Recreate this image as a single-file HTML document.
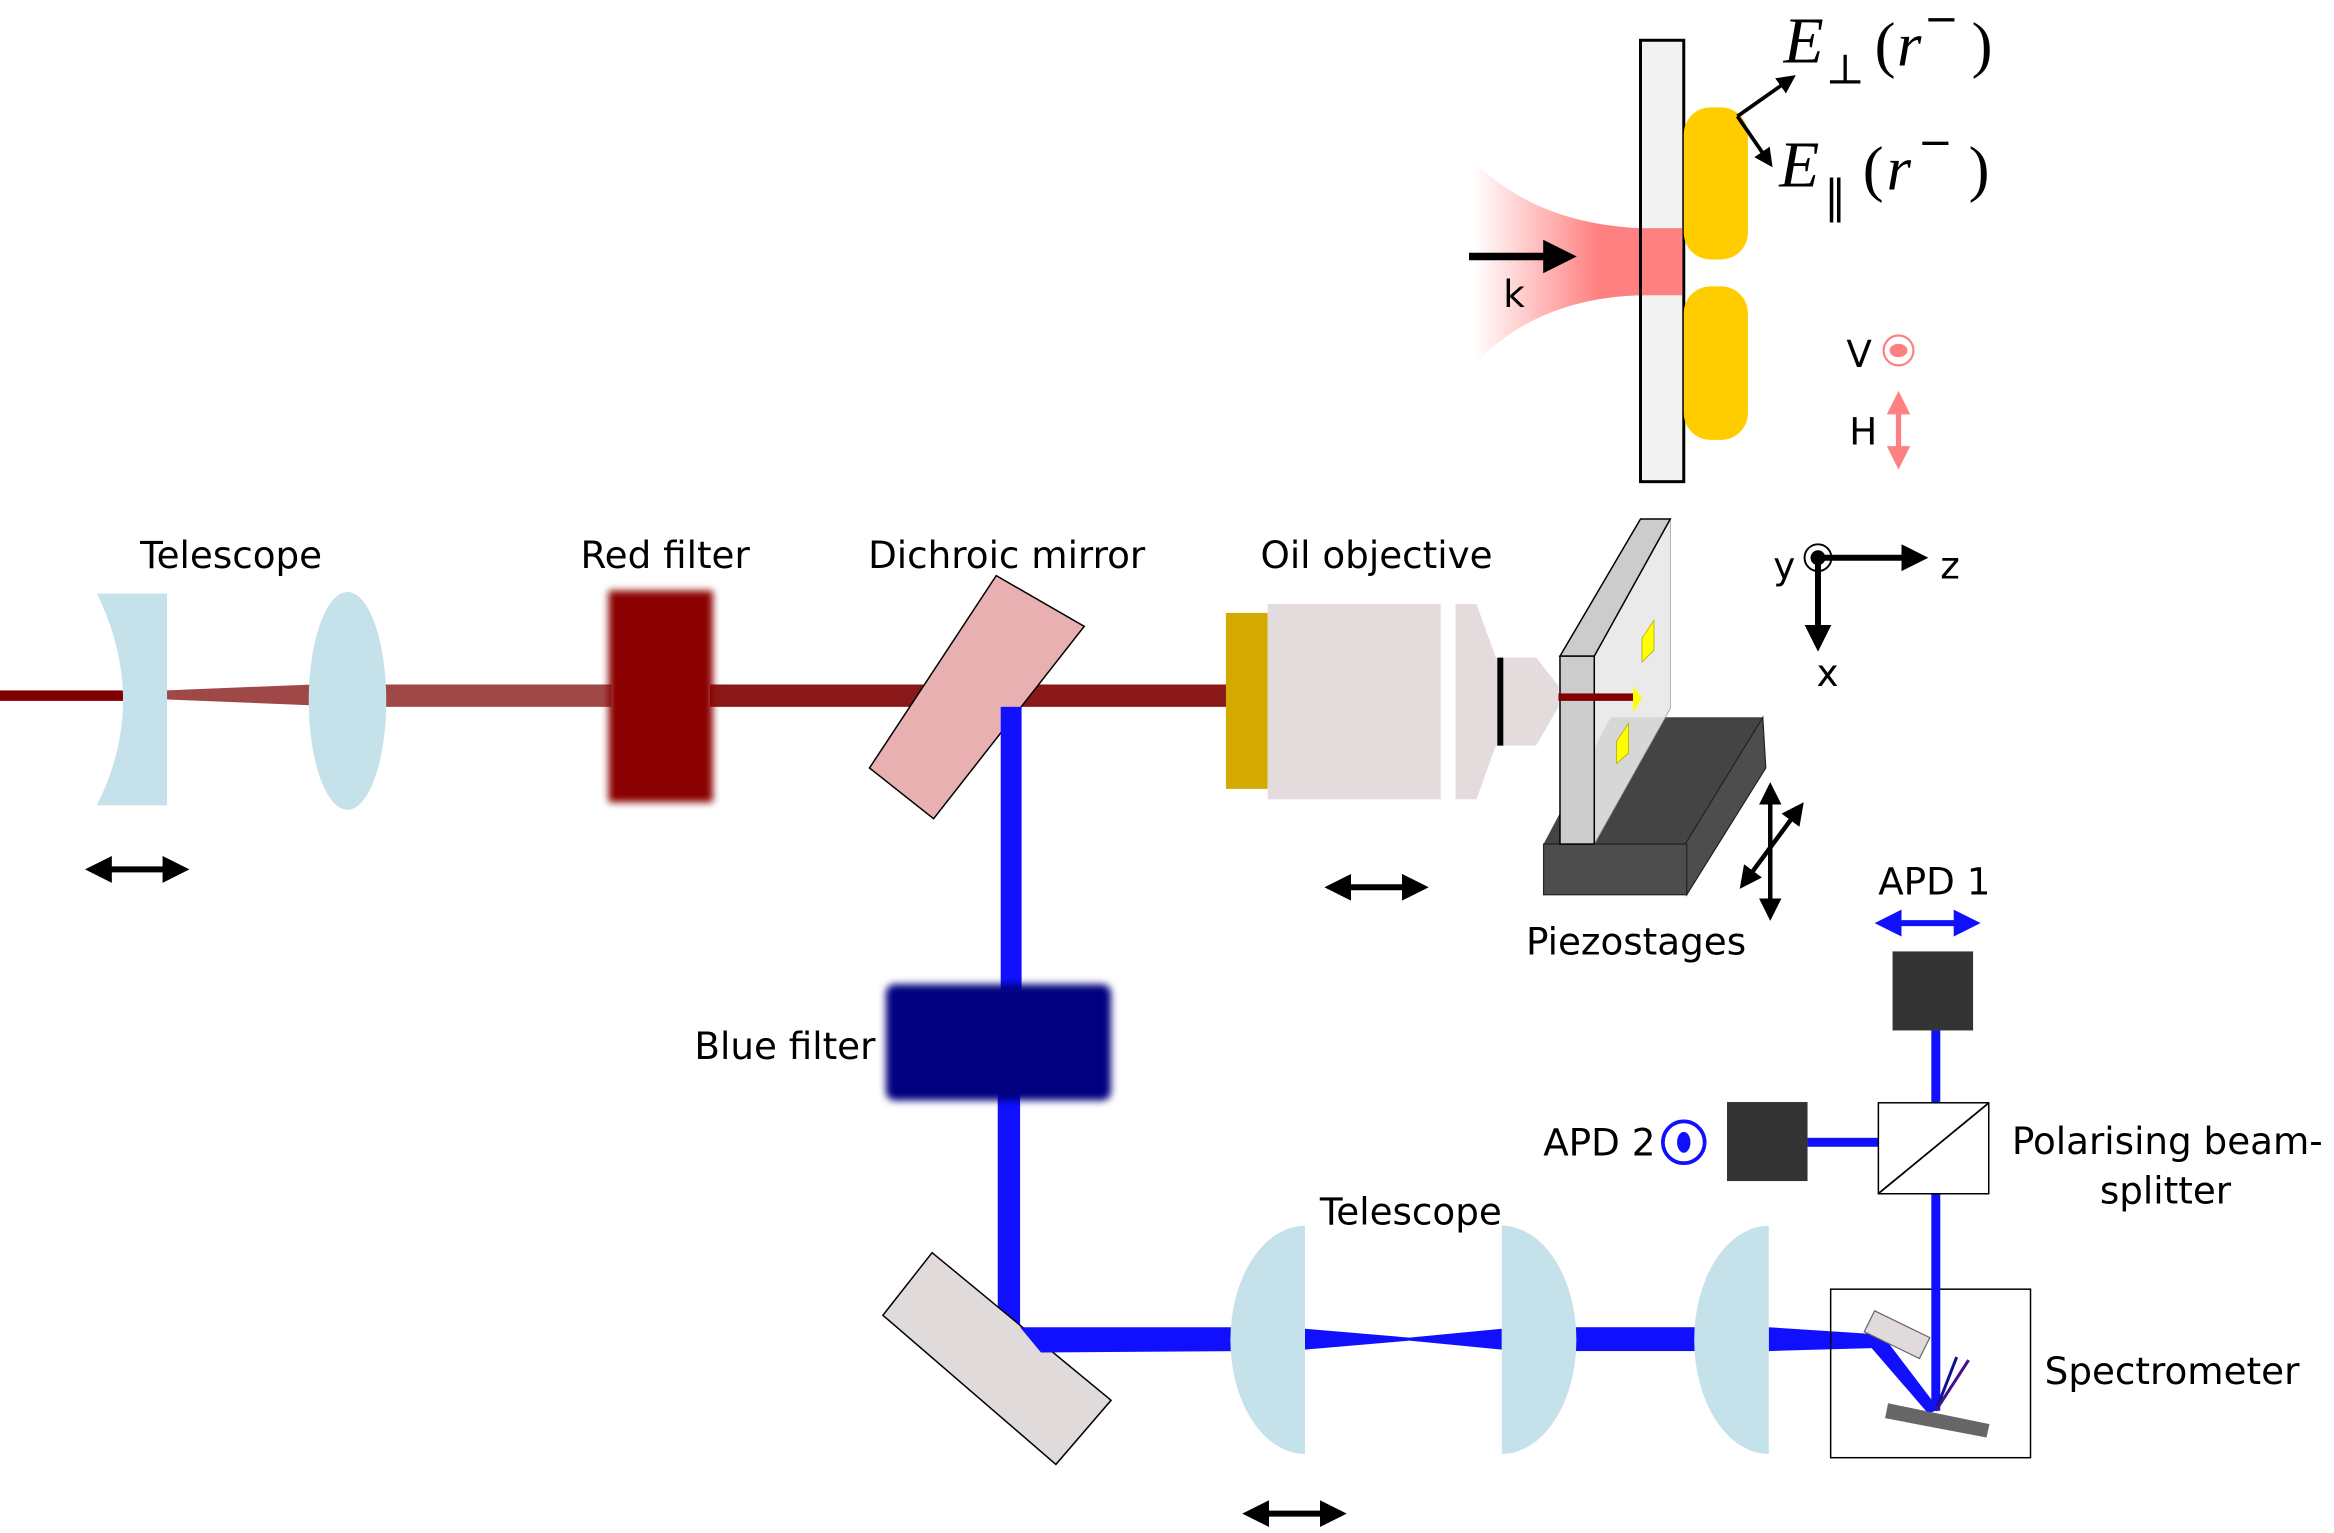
<!DOCTYPE html>
<html><head><meta charset="utf-8"><style>html,body{margin:0;padding:0;background:#fff}svg{display:block}text{font-family:"DejaVu Sans","Liberation Sans",sans-serif;font-size:25px;fill:#000}</style></head><body>
<svg width="2334" height="1533" viewBox="0 0 1565 1028" preserveAspectRatio="none" xmlns="http://www.w3.org/2000/svg">
<defs>
<filter id="bl" x="-20%" y="-20%" width="140%" height="140%"><feGaussianBlur stdDeviation="2.5"/></filter>
<linearGradient id="bg" x1="0" x2="1" y1="0" y2="0"><stop offset="0" stop-color="#ff8080" stop-opacity="0"/><stop offset="0.75" stop-color="#ff8080"/></linearGradient>
<marker id="ah" viewBox="0 0 10 10" refX="5" refY="5" markerWidth="4.5" markerHeight="4.5" orient="auto-start-reverse"><path d="M0,0L10,5L0,10z" fill="#000"/></marker>
<marker id="ahi" viewBox="0 0 10 10" refX="5" refY="5" markerWidth="5" markerHeight="5" orient="auto-start-reverse"><path d="M0,0L10,5L0,10z" fill="#000"/></marker>
<marker id="ahb" viewBox="0 0 10 10" refX="5" refY="5" markerWidth="4.5" markerHeight="4.5" orient="auto-start-reverse"><path d="M0,0L10,5L0,10z" fill="#1010ff"/></marker>
<marker id="ahp" viewBox="0 0 10 10" refX="5" refY="5" markerWidth="4.5" markerHeight="4.5" orient="auto-start-reverse"><path d="M0,0L10,5L0,10z" fill="#ff8080"/></marker>
<marker id="ahs" viewBox="0 0 10 10" refX="5" refY="5" markerWidth="5" markerHeight="5" orient="auto-start-reverse"><path d="M0,0L10,5L0,10z" fill="#000"/></marker>
</defs>

<!-- red beam -->
<rect x="0" y="463" width="95" height="7" fill="#800000"/>
<polygon points="110,463 210,459 210,473 110,469" fill="#a04848"/>
<rect x="258" y="459" width="152" height="15" fill="#a04848"/>
<rect x="476" y="459" width="348" height="15" fill="#8b1818"/>
<!-- lenses -->
<path d="M65,398 L112,398 L112,540 L65,540 Q100,470 65,398z" fill="#c5e1ea"/>
<ellipse cx="233" cy="470" rx="26" ry="73" fill="#c5e1ea"/>
<rect x="408" y="396" width="70" height="142" fill="#8b0000" filter="url(#bl)"/>
<!-- dichroic -->
<polygon points="668,386 727,420 626,549 583,515" fill="#e8b0b0" stroke="#000" stroke-width="1"/>
<rect x="671" y="474" width="14" height="190" fill="#1010ff"/>
<rect x="669" y="730" width="15" height="168" fill="#1010ff"/>
<rect x="594" y="660" width="151" height="78" rx="6" fill="#000080" filter="url(#bl)"/>
<!-- bottom mirror & blue beam -->
<polygon points="625,840 745,939 708,982 592,882" fill="#e0dadb" stroke="#000" stroke-width="1"/>
<polygon points="684,890 830,890 830,906 698,907" fill="#1010ff"/>
<polygon points="875,891 945,897 1007,891 1007,905 945,899 875,905" fill="#1010ff"/>
<rect x="1055" y="890" width="84" height="16" fill="#1010ff"/>
<polygon points="1186,890 1262,895 1300,945 1293,948 1255,904 1186,906" fill="#1010ff"/>
<path d="M875,822 L875,975 A50,76.5 0 0 1 875,822z" fill="#c5e1ea"/>
<path d="M1007,975 L1007,822 A50,76.5 0 0 1 1007,975z" fill="#c5e1ea"/>
<path d="M1186,822 L1186,975 A50,76.5 0 0 1 1186,822z" fill="#c5e1ea"/>
<!-- spectrometer -->
<rect x="1227.5" y="864.5" width="134" height="113" fill="none" stroke="#000" stroke-width="1"/>
<polygon points="1257,879 1294,897 1287,911 1250,893" fill="#e0dadb" stroke="#666" stroke-width="0.8"/>
<rect x="1295" y="691" width="6" height="255" fill="#1010ff"/>
<line x1="1298" y1="946" x2="1312" y2="910" stroke="#101090" stroke-width="2"/>
<line x1="1298" y1="946" x2="1320" y2="912" stroke="#401090" stroke-width="2"/>
<polygon points="1266,941 1334,955 1332,964 1264,951" fill="#666"/>
<!-- PBS / APDs -->
<rect x="1212" y="763" width="48" height="6" fill="#1010ff"/>
<rect x="1259.5" y="739.5" width="74" height="61" fill="#fff" stroke="#000" stroke-width="1"/>
<line x1="1260" y1="800" x2="1333" y2="740" stroke="#000" stroke-width="1.2"/>
<rect x="1269" y="638" width="54" height="53" fill="#333"/>
<rect x="1158" y="739" width="54" height="53" fill="#333"/>
<line x1="1266" y1="619" x2="1319" y2="619" stroke="#1010ff" stroke-width="4" marker-start="url(#ahb)" marker-end="url(#ahb)"/>
<circle cx="1129" cy="766" r="14" fill="none" stroke="#1010ff" stroke-width="2.5"/>
<ellipse cx="1129" cy="766" rx="4.5" ry="7" fill="#1010ff"/>
<!-- objective -->
<rect x="822" y="411" width="28" height="118" fill="#d4aa00"/>
<rect x="850" y="405" width="116" height="131" fill="#e3dbdc"/>
<polygon points="976,405 990,405 1003,441 1003,500 990,536 976,536" fill="#e3dbdc"/>
<rect x="1003" y="441" width="27" height="59" fill="#e3dbdc"/>
<rect x="1004" y="441" width="4" height="59" fill="#000"/>
<polygon points="1030,441 1045,460 1045,474 1030,500" fill="#e3dbdc"/>
<!-- slide & stage -->
<polygon points="1080,481 1182,481 1130,566 1035,566" fill="#444"/>
<polygon points="1182,481 1184,515 1131,600 1130,566" fill="#4d4d4d" stroke="#222" stroke-width="0.8"/>
<rect x="1035" y="566" width="96" height="34" fill="#4d4d4d" stroke="#222" stroke-width="0.8"/>
<polygon points="1069,440 1120,348 1120,475 1069,566" fill="#e8e8e8" fill-opacity="0.9" stroke="#999" stroke-width="0.5"/>
<polygon points="1046,440 1100,348 1120,348 1069,440" fill="#ccc" stroke="#000" stroke-width="1"/>
<rect x="1046" y="440" width="23" height="126" fill="#ccc" stroke="#000" stroke-width="1"/>
<rect x="1045" y="465" width="50" height="5" fill="#800000"/>
<polygon points="1101,428 1109,416 1109,436 1101,444" fill="#ffff00" stroke="#aa0" stroke-width="0.5"/>
<polygon points="1095,460 1101,468 1095,478" fill="#ffff00"/>
<polygon points="1084,497 1092,485 1092,505 1084,512" fill="#ffff00" stroke="#aa0" stroke-width="0.5"/>
<line x1="1187" y1="532" x2="1187" y2="610" stroke="#000" stroke-width="3" marker-start="url(#ahs)" marker-end="url(#ahs)"/>
<line x1="1171" y1="590" x2="1205" y2="544" stroke="#000" stroke-width="3" marker-start="url(#ahs)" marker-end="url(#ahs)"/>
<!-- double arrows -->
<line x1="66" y1="583" x2="118" y2="583" stroke="#000" stroke-width="4" marker-start="url(#ah)" marker-end="url(#ah)"/>
<line x1="897" y1="595" x2="949" y2="595" stroke="#000" stroke-width="4" marker-start="url(#ah)" marker-end="url(#ah)"/>
<line x1="842" y1="1015" x2="894" y2="1015" stroke="#000" stroke-width="4" marker-start="url(#ah)" marker-end="url(#ah)"/>
<!-- axes -->
<circle cx="1219" cy="374" r="9" fill="none" stroke="#000" stroke-width="1.3"/>
<line x1="1219" y1="374" x2="1284" y2="374" stroke="#000" stroke-width="4" marker-end="url(#ah)"/>
<line x1="1219" y1="374" x2="1219" y2="428" stroke="#000" stroke-width="4" marker-end="url(#ah)"/>
<circle cx="1219" cy="374" r="5" fill="#000"/>
<text x="1189" y="388">y</text><text x="1301" y="388">z</text><text x="1218" y="460">x</text>
<!-- inset -->
<path d="M988,108 Q1030,150 1100,153 L1100,198 Q1030,200 988,245z" fill="url(#bg)"/>
<rect x="1100" y="27" width="29" height="296" fill="#f2f2f2" stroke="#000" stroke-width="2"/>
<rect x="1101" y="153" width="27" height="45" fill="#ff8080"/>
<rect x="1129" y="72" width="43" height="102" rx="18" fill="#ffcc00"/>
<rect x="1129" y="192" width="43" height="103" rx="18" fill="#ffcc00"/>
<line x1="985" y1="172" x2="1046" y2="172" stroke="#000" stroke-width="5" marker-end="url(#ah)"/>
<text x="1008" y="206">k</text>
<line x1="1165" y1="78" x2="1199" y2="54" stroke="#000" stroke-width="2.5" marker-end="url(#ahi)"/>
<line x1="1165" y1="78" x2="1185" y2="107" stroke="#000" stroke-width="2.5" marker-end="url(#ahi)"/>
<text x="1196" y="42" style="font-family:'Liberation Serif',serif;font-style:italic;font-size:44px">E</text>
<text x="1224" y="56" style="font-family:'DejaVu Serif',serif;font-size:28px">⊥</text>
<text x="1257" y="44" style="font-family:'Liberation Serif',serif;font-size:42px">(</text>
<text x="1272" y="44" style="font-family:'Liberation Serif',serif;font-style:italic;font-size:42px">r</text>
<text x="1290" y="22" style="font-size:28px">−</text>
<text x="1322" y="44" style="font-family:'Liberation Serif',serif;font-size:42px">)</text>
<text x="1193" y="125" style="font-family:'Liberation Serif',serif;font-style:italic;font-size:44px">E</text>
<text x="1223" y="142" style="font-family:'DejaVu Serif',serif;font-size:30px">‖</text>
<text x="1249" y="127" style="font-family:'Liberation Serif',serif;font-size:42px">(</text>
<text x="1265" y="127" style="font-family:'Liberation Serif',serif;font-style:italic;font-size:42px">r</text>
<text x="1286" y="105" style="font-size:28px">−</text>
<text x="1320" y="127" style="font-family:'Liberation Serif',serif;font-size:42px">)</text>
<text x="1238" y="246">V</text>
<circle cx="1273" cy="235" r="10" fill="none" stroke="#ff8080" stroke-width="1.5"/>
<ellipse cx="1273" cy="235" rx="6" ry="4.5" fill="#ff8080"/>
<text x="1240" y="298">H</text>
<line x1="1273" y1="270" x2="1273" y2="307" stroke="#ff8080" stroke-width="3.5" marker-start="url(#ahp)" marker-end="url(#ahp)"/>
<!-- labels -->
<text x="155" y="381" text-anchor="middle">Telescope</text>
<text x="446" y="381" text-anchor="middle">Red filter</text>
<text x="675" y="381" text-anchor="middle">Dichroic mirror</text>
<text x="923" y="381" text-anchor="middle">Oil objective</text>
<text x="1097" y="640" text-anchor="middle">Piezostages</text>
<text x="1297" y="600" text-anchor="middle">APD 1</text>
<text x="1110" y="775" text-anchor="end">APD 2</text>
<text x="1349" y="774">Polarising beam-</text>
<text x="1452" y="807" text-anchor="middle">splitter</text>
<text x="1371" y="928">Spectrometer</text>
<text x="946" y="821" text-anchor="middle">Telescope</text>
<text x="587" y="710" text-anchor="end">Blue filter</text>
</svg>
</body></html>
